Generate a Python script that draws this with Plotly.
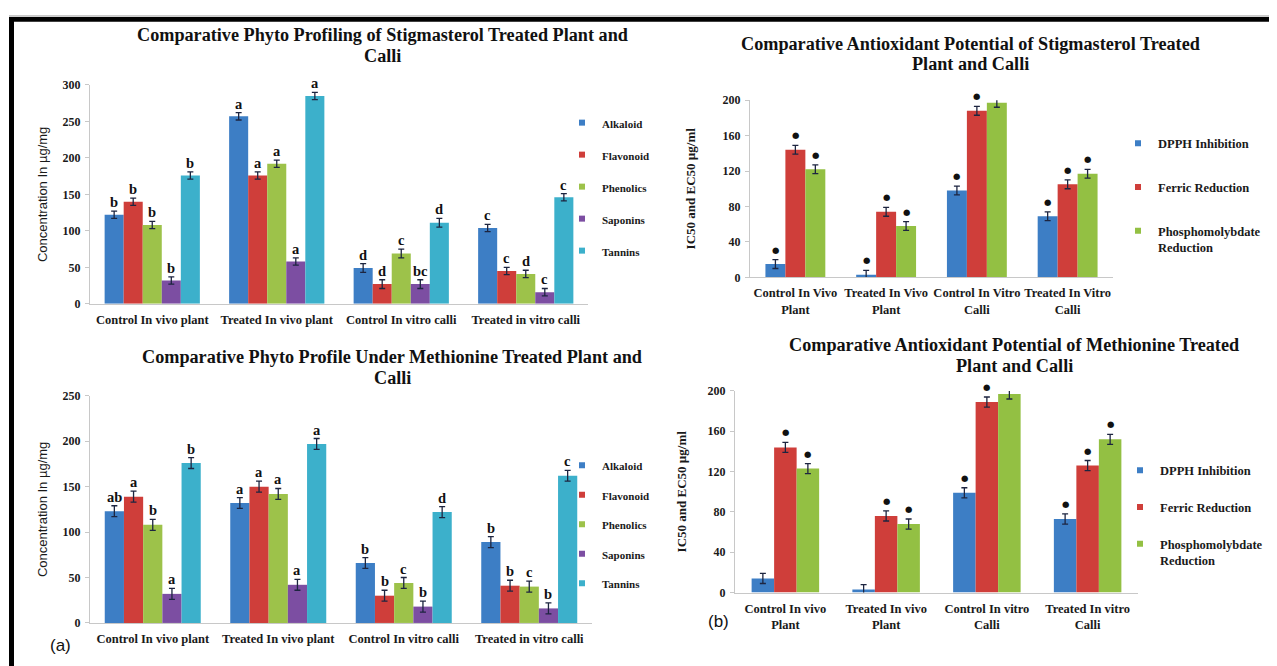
import plotly.graph_objects as go

W, H = 1277, 666
SERIF = "Liberation Serif, Times New Roman, serif"
NARROW = "Liberation Sans Narrow, Arial Narrow, Liberation Sans, sans-serif"

# ---------------- data ----------------
cats_phyto = ["Control In vivo plant", "Treated In vivo plant",
              "Control In vitro calli", "Treated in vitro calli"]
cats_anti_stig = ["Control In Vivo<br>Plant", "Treated In Vivo<br>Plant",
                  "Control In Vitro<br>Calli", "Treated In Vitro<br>Calli"]
cats_anti_meth = ["Control In vivo<br>Plant", "Treated In vivo<br>Plant",
                  "Control In vitro<br>Calli", "Treated In vitro<br>Calli"]

phyto_names = ["Alkaloid", "Flavonoid", "Phenolics", "Saponins", "Tannins"]
anti_names = ["DPPH Inhibition", "Ferric Reduction", "Phosphomolybdate<br>Reduction"]

# Stigmasterol phyto profiling (µg/mg)
stig_alkaloid = [122, 257, 49, 104]
stig_flavonoid = [140, 176, 27, 45]
stig_phenolics = [108, 192, 69, 41]
stig_saponins = [32, 58, 27, 16]
stig_tannins = [176, 285, 111, 146]
stig_phyto_err = [5, 5, 6, 5]
stig_alkaloid_sig = ["b", "a", "d", "c"]
stig_flavonoid_sig = ["b", "a", "d", "c"]
stig_phenolics_sig = ["b", "a", "c", "d"]
stig_saponins_sig = ["b", "a", "bc", "c"]
stig_tannins_sig = ["b", "a", "d", "c"]

# Stigmasterol antioxidant (IC50 / EC50 µg/ml)
stig_dpph = [15, 3, 98, 69]
stig_ferric = [144, 74, 188, 105]
stig_phospho = [122, 58, 197, 117]
stig_anti_err = [5, 5, 5, 5]
stig_dpph_sig = ["*", "*", "*", "*"]
stig_ferric_sig = ["*", "*", "*", "*"]
stig_phospho_sig = ["*", "*", "*", "*"]

# Methionine phyto profiling (µg/mg)
meth_alkaloid = [123, 132, 66, 89]
meth_flavonoid = [139, 150, 30, 41]
meth_phenolics = [108, 142, 44, 40]
meth_saponins = [32, 42, 18, 16]
meth_tannins = [176, 197, 122, 162]
meth_phyto_err = [6, 6, 6, 6]
meth_alkaloid_sig = ["ab", "a", "b", "b"]
meth_flavonoid_sig = ["a", "a", "b", "b"]
meth_phenolics_sig = ["b", "a", "c", "c"]
meth_saponins_sig = ["a", "a", "b", "b"]
meth_tannins_sig = ["b", "a", "d", "c"]

# Methionine antioxidant (IC50 / EC50 µg/ml)
meth_dpph = [14, 3, 99, 73]
meth_ferric = [144, 76, 189, 126]
meth_phospho = [123, 68, 197, 152]
meth_anti_err = [5, 5, 5, 5]
meth_dpph_sig = ["", "", "*", "*"]
meth_ferric_sig = ["*", "*", "*", "*"]
meth_phospho_sig = ["*", "*", "*", "*"]

phyto_colors = ["#3d7ec5", "#cf3e3a", "#9dc24a", "#7c4ea2", "#3cb0cb"]
anti_colors = ["#3d7ec5", "#cf3e3a", "#93c043"]

# ---------------- figure ----------------
fig = go.Figure()
annotations = []

# the page places the figure 8px from the top-left corner
OFF = 8


def px_x(p):
    return (p - OFF) / W


def px_y(p):
    return 1 - (p - OFF) / H


def add_panel(k, cats, names, series, errs, sigs, colors, frac, legend_name):
    xa = "x" if k == 1 else f"x{k}"
    ya = "y" if k == 1 else f"y{k}"
    n = len(series)
    w = frac / n
    for i, (nm, vals, sg, col) in enumerate(zip(names, series, sigs, colors)):
        off = -frac / 2 + i * w
        fig.add_trace(go.Bar(
            x=cats, y=vals, name=nm, xaxis=xa, yaxis=ya,
            marker=dict(color=col, line=dict(width=0)),
            width=w, offset=off, showlegend=False,
            error_y=dict(type="data", array=errs, color="#1d2540",
                         thickness=1.3, width=3),
        ))
        # legend-only entry (small square marker like the original)
        fig.add_trace(go.Scatter(
            x=[None], y=[None], mode="markers", name=nm, xaxis=xa, yaxis=ya,
            marker=dict(symbol="square", size=6, color=col),
            legend=legend_name, legendgroup=f"{legend_name}_{i}",
        ))
        for j, (v, s) in enumerate(zip(vals, sg)):
            if not s:
                continue
            xc = j + off + w / 2
            if s == "*":
                annotations.append(dict(
                    x=xc, y=v + errs[j], xref=xa, yref=ya, text="●",
                    showarrow=False, yanchor="bottom", yshift=3,
                    font=dict(family="DejaVu Sans", size=8.5, color="#111")))
            else:
                annotations.append(dict(
                    x=xc, y=v + errs[j], xref=xa, yref=ya, text=s,
                    showarrow=False, yanchor="bottom", yshift=-1,
                    font=dict(family=SERIF, size=14.5, color="#111", weight="bold")))


add_panel(1, cats_phyto, phyto_names,
          [stig_alkaloid, stig_flavonoid, stig_phenolics, stig_saponins, stig_tannins],
          stig_phyto_err,
          [stig_alkaloid_sig, stig_flavonoid_sig, stig_phenolics_sig, stig_saponins_sig, stig_tannins_sig],
          phyto_colors, 0.765, "legend")
add_panel(2, cats_anti_stig, anti_names,
          [stig_dpph, stig_ferric, stig_phospho], stig_anti_err,
          [stig_dpph_sig, stig_ferric_sig, stig_phospho_sig],
          anti_colors, 0.66, "legend2")
add_panel(3, cats_phyto, phyto_names,
          [meth_alkaloid, meth_flavonoid, meth_phenolics, meth_saponins, meth_tannins],
          meth_phyto_err,
          [meth_alkaloid_sig, meth_flavonoid_sig, meth_phenolics_sig, meth_saponins_sig, meth_tannins_sig],
          phyto_colors, 0.765, "legend3")
add_panel(4, cats_anti_meth, anti_names,
          [meth_dpph, meth_ferric, meth_phospho], meth_anti_err,
          [meth_dpph_sig, meth_ferric_sig, meth_phospho_sig],
          anti_colors, 0.67, "legend4")

# ---------------- axes ----------------
ytickfont = dict(family=SERIF, size=12, color="#1a1a1a", weight="bold")
xtickfont = dict(family=SERIF, size=12.5, color="#1a1a1a", weight="bold")


def xaxis(x0, x1, anchor):
    return dict(domain=[px_x(x0), px_x(x1)], anchor=anchor, type="category",
                showline=True, linecolor="#c8c8c8", linewidth=1, ticks="",
                showgrid=False, zeroline=False, tickfont=xtickfont,
                ticklabelstandoff=4, fixedrange=True)


def yaxis(y0, y1, anchor, rng, dtick, title, tfont, standoff):
    return dict(domain=[px_y(y0), px_y(y1)], anchor=anchor, range=rng, dtick=dtick,
                showline=True, linecolor="#c8c8c8", linewidth=1, ticks="outside",
                ticklen=4, tickcolor="#c8c8c8", showgrid=False, zeroline=False,
                tickfont=ytickfont, ticklabelstandoff=2,
                title=dict(text=title, font=tfont, standoff=standoff),
                fixedrange=True)


narrow_font = dict(family=NARROW, size=13, color="#1a1a1a")
serif_title_font = dict(family=SERIF, size=13, color="#1a1a1a", weight="bold")

fig.update_layout(
    xaxis=xaxis(90, 588, "y"),
    yaxis=yaxis(303, 79.5, "x", [0, 300], 50, "Concentration In µg/mg", narrow_font, 12),
    xaxis2=xaxis(750, 1113, "y2"),
    yaxis2=yaxis(276, 95, "x2", [0, 200], 40, "IC50 and EC50 µg/ml", serif_title_font, 24),
    xaxis3=xaxis(90, 592, "y3"),
    yaxis3=yaxis(629, 397, "x3", [0, 250], 50, "Concentration In µg/mg", narrow_font, 12),
    xaxis4=xaxis(735, 1138, "y4"),
    yaxis4=yaxis(598, 392, "x4", [0, 200], 40, "IC50 and EC50 µg/ml", serif_title_font, 18),
)

# ---------------- legends ----------------
def legend(x, y, gap, size):
    return dict(x=px_x(x), y=px_y(y), xanchor="left", yanchor="top",
                font=dict(family=SERIF, size=size, color="#1a1a1a", weight="bold"),
                tracegroupgap=gap, bgcolor="rgba(0,0,0,0)",
                valign="top", itemclick=False, itemdoubleclick=False)


fig.update_layout(
    legend=legend(562, 104, 13, 11),
    legend2=legend(1118, 124, 24.5, 12.5),
    legend3=legend(562, 454, 10.5, 11),
    legend4=legend(1120, 458, 17.5, 12.5),
)

# ---------------- titles & labels ----------------
title_font = dict(family=SERIF, size=18.2, color="#111", weight="bold")
for text, cx, cy in [
    ("Comparative Phyto Profiling of Stigmasterol Treated Plant and", 383, 28.5),
    ("Calli", 383, 49.5),
    ("Comparative Antioxidant Potential of Stigmasterol Treated", 970, 37.5),
    ("Plant and Calli", 970, 58.5),
    ("Comparative Phyto Profile Under Methionine Treated Plant and", 392, 357.5),
    ("Calli", 392, 378.5),
    ("Comparative Antioxidant Potential of Methionine Treated", 1014, 345.5),
    ("Plant and Calli", 1014, 366.5),
]:
    annotations.append(dict(x=px_x(cx), y=px_y(cy), xref="paper", yref="paper",
                            text=text, showarrow=False, xanchor="center", yanchor="middle",
                            font=title_font))

for text, cx, cy in [("(a)", 60, 652), ("(b)", 718, 628)]:
    annotations.append(dict(x=px_x(cx), y=px_y(cy), xref="paper", yref="paper",
                            text=text, showarrow=False, xanchor="center", yanchor="middle",
                            font=dict(family="Liberation Sans, Arial, sans-serif", size=17, color="#111")))

# frame (thick black border along top and left)
shapes = [
    dict(type="rect", xref="paper", yref="paper", x0=px_x(9), x1=1,
         y0=px_y(15), y1=px_y(10), fillcolor="black", line=dict(width=0)),
    dict(type="rect", xref="paper", yref="paper", x0=px_x(9), x1=px_x(14),
         y0=0, y1=px_y(10), fillcolor="black", line=dict(width=0)),
    dict(type="line", xref="paper", yref="paper", x0=px_x(9), x1=1,
         y0=px_y(9), y1=px_y(9), line=dict(color="#9a9a9a", width=1)),
]

fig.update_layout(
    width=W, height=H, margin=dict(l=0, r=0, t=0, b=0),
    paper_bgcolor="white", plot_bgcolor="white",
    barmode="overlay", annotations=annotations, shapes=shapes,
    font=dict(family=SERIF, color="#1a1a1a"),
)

fig.write_html("out.html")
